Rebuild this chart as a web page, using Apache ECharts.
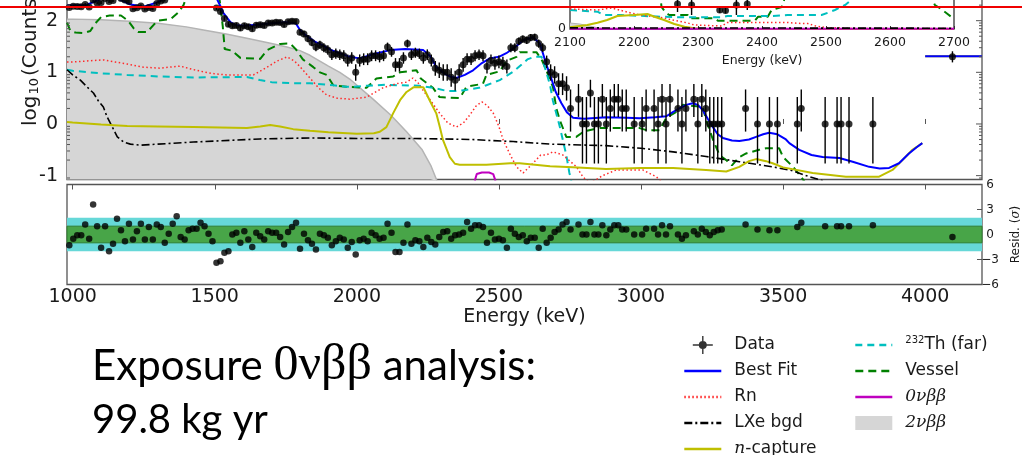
<!DOCTYPE html>
<html>
<head>
<meta charset="utf-8">
<script src="https://cdn.jsdelivr.net/npm/echarts@6/dist/echarts.min.js"></script>
<style>
  html, body { margin: 0; padding: 0; background: #fff; }
  #chart { width: 1022px; height: 455px; }
</style>
</head>
<body>
<div id="chart"></div>
<script>
// ---- spectrum binning (bin centres, keV) ----
const binStart = 988;
const binWidth = 14;

// counts per bin (null = empty bin, not drawn)
const dataCounts = [
  180,190,188,186,205,185,250,220,225,270,
  235,245,290,270,250,235,170,178,192,168,
  180,172,215,240,250,300,360,420,430,480,
  560,620,690,740,720,580,400,175,150,110,
  85,80,81,72,80,76,70,82,83,81,
  90,90,93,92,84,95,98,96,60,55,
  45,38,31,34,30,27,22,23,22,21,
  17,19,10,17,18,18,21,21,20,21,
  31,25,14,14,19,36,22,24,23,19,
  22,17,12,11,10,10,8,7,10,14,
  18,18,21,22,21,13,17,15,16,15,
  13,30,30,40,44,42,47,48,36,30,
  16,10,9,6,6,5,2,null,3,1,
  1,4,1,1,3,1,2,3,3,2,
  2,null,1,null,1,2,null,2,1,3,
  1,3,null,2,1,2,null,3,1,3,
  2,1,1,1,1,null,null,null,null,null,
  2,null,null,1,null,null,1,null,1,null,
  null,null,null,1,2,null,null,null,null,null,
  1,null,null,1,1,null,1,null,null,null,
  null,null,1,null,null,null,null,null,null,null,
  null,null,null,null,null,null,null,null,null,null,
  null,null,20
];

// fit residuals per bin, in sigma
const residuals = [
  -1.3,-0.5,-0.1,-0.1,1.2,-0.5,3.6,1.0,-1.6,1.0,
  -2.0,-1.1,1.9,0.5,-0.8,1.3,-0.6,0.4,1.3,-0.6,
  0.9,-0.6,1.2,0.9,-1.0,0.1,1.3,2.2,-0.3,-0.6,
  0.5,0.7,0.7,1.4,1.0,0.1,-0.8,-3.4,-3.2,-2.2,
  -2.0,0.0,0.2,-1.0,0.4,-0.6,-1.5,0.2,-0.2,-0.6,
  0.4,0.2,0.2,-0.3,-1.2,0.3,0.9,1.4,-1.7,0.1,
  -0.7,-1.1,-1.8,0.1,-0.1,-0.4,-1.3,-0.8,-0.4,-0.6,
  -1.6,-0.9,-2.4,-0.7,-0.5,-0.8,0.2,-0.1,-0.5,-0.4,
  1.3,0.2,-2.1,-2.1,-1.0,1.2,-1.1,-0.7,-0.8,-1.5,
  -0.4,-0.9,-1.2,-0.3,0.3,0.4,-0.5,-0.1,0.0,0.2,
  1.5,0.7,1.1,1.1,0.9,-1.0,0.2,-0.6,-0.5,-0.7,
  -1.6,0.7,0.1,-0.3,-0.1,-0.8,-0.4,-0.4,-1.6,0.7,
  -1.0,-0.4,0.3,0.6,1.2,1.5,0.6,null,1.2,0.0,
  0.0,1.5,0.0,0.0,1.1,-0.1,0.6,1.1,1.1,0.6,
  0.6,null,0.0,null,0.0,0.7,null,0.7,0.0,1.1,
  0.0,1.0,null,0.0,-0.5,-0.1,null,0.4,0.0,0.7,
  0.3,-0.1,0.3,0.5,0.6,null,null,null,null,null,
  1.2,null,null,0.6,null,null,0.5,null,0.5,null,
  null,null,null,0.9,1.4,null,null,null,null,null,
  1.0,null,null,1.0,1.0,null,1.0,null,null,null,
  null,null,1.1,null,null,null,null,null,null,null,
  null,null,null,null,null,null,null,null,null,null,
  null,null,-0.3
];

// ---- model components, [energy keV, log10(counts)] ----
const bestFit = [[980,2.3],[1000,2.3],[1050,2.31],[1100,2.42],[1150,2.45],[1200,2.32],[1250,2.27],[1300,2.36],[1350,2.52],[1400,2.7],[1450,2.85],[1480,2.75],[1505,2.45],[1520,2.28],[1530,2.15],[1555,1.97],[1575,1.91],[1600,1.9],[1650,1.92],[1700,1.95],[1750,1.97],[1785,1.95],[1800,1.82],[1820,1.72],[1850,1.6],[1880,1.52],[1910,1.43],[1940,1.37],[1975,1.3],[2010,1.27],[2057,1.35],[2117,1.43],[2170,1.45],[2234,1.43],[2260,1.3],[2280,1.1],[2310,0.97],[2327,0.92],[2350,0.89],[2380,0.95],[2409,1.04],[2440,1.18],[2468,1.27],[2500,1.3],[2526,1.37],[2560,1.5],[2585,1.62],[2620,1.68],[2644,1.56],[2667,1.15],[2680,0.95],[2700,0.62],[2720,0.4],[2740,0.22],[2761,0.12],[2800,0.1],[2877,0.13],[2950,0.12],[2995,0.11],[3050,0.13],[3089,0.15],[3112,0.23],[3135,0.3],[3159,0.37],[3182,0.4],[3200,0.37],[3217,0.27],[3235,0.1],[3253,-0.06],[3270,-0.2],[3288,-0.27],[3320,-0.32],[3346,-0.33],[3380,-0.3],[3405,-0.25],[3430,-0.2],[3451,-0.17],[3480,-0.2],[3510,-0.3],[3522,-0.37],[3557,-0.5],[3600,-0.6],[3639,-0.64],[3698,-0.66],[3745,-0.73],[3803,-0.83],[3840,-0.86],[3873,-0.85],[3908,-0.76],[3943,-0.57],[3970,-0.45],[3990,-0.37],[3995,null],[4000,1.31],[4200,1.31]];

const radon = [[980,1.2],[1000,1.2],[1050,1.22],[1108,1.24],[1150,1.2],[1192,1.16],[1250,1.1],[1308,1.08],[1340,1.1],[1378,1.12],[1420,1.06],[1460,1.01],[1500,0.97],[1543,0.95],[1636,0.95],[1684,1.1],[1720,1.22],[1755,1.3],[1780,1.22],[1800,1.11],[1835,0.89],[1865,0.7],[1894,0.56],[1930,0.5],[1975,0.48],[2034,0.52],[2092,0.7],[2140,0.78],[2175,0.81],[2197,0.89],[2215,0.8],[2232,0.66],[2260,0.45],[2291,0.21],[2320,0.02],[2350,-0.06],[2375,0.02],[2397,0.17],[2420,0.35],[2440,0.43],[2460,0.35],[2480,0.21],[2500,-0.05],[2515,-0.31],[2540,-0.6],[2562,-0.83],[2585,-0.95],[2620,-0.76],[2647,-0.6],[2667,-0.6],[2690,-0.54],[2725,-0.6],[2773,-0.83],[2795,-1.02],[2820,-1.15],[2850,-1.05],[2865,-1.0],[2913,-0.89],[3006,-0.89],[3053,-1.02],[3080,-1.15]];

const lxeBgd = [[980,1.05],[1000,0.95],[1027,0.85],[1050,0.72],[1073,0.6],[1090,0.45],[1108,0.33],[1120,0.15],[1132,0.02],[1145,-0.12],[1157,-0.25],[1180,-0.35],[1203,-0.39],[1238,-0.41],[1300,-0.39],[1425,-0.35],[1659,-0.29],[1835,-0.27],[2000,-0.28],[2200,-0.28],[2400,-0.3],[2550,-0.34],[2680,-0.39],[2877,-0.42],[3000,-0.47],[3113,-0.54],[3229,-0.63],[3346,-0.73],[3463,-0.83],[3530,-0.9],[3592,-1.02],[3640,-1.1]];

const nCapture = [[980,0.04],[1000,0.03],[1100,-0.01],[1192,-0.04],[1300,-0.05],[1425,-0.06],[1613,-0.08],[1660,-0.05],[1695,-0.02],[1730,-0.05],[1776,-0.1],[1835,-0.13],[1900,-0.16],[2000,-0.19],[2060,-0.18],[2081,-0.15],[2104,-0.06],[2128,0.21],[2152,0.46],[2175,0.62],[2199,0.71],[2234,0.71],[2256,0.46],[2280,0.2],[2292,-0.06],[2303,-0.31],[2327,-0.64],[2345,-0.77],[2362,-0.79],[2456,-0.79],[2540,-0.76],[2573,-0.76],[2680,-0.82],[2760,-0.84],[2877,-0.87],[3000,-0.85],[3113,-0.85],[3229,-0.89],[3300,-0.92],[3346,-0.83],[3380,-0.72],[3405,-0.68],[3440,-0.72],[3463,-0.76],[3500,-0.84],[3604,-0.95],[3721,-1.02],[3838,-1.02],[3885,-0.89],[3920,-0.7],[3955,-0.5],[3990,-0.37],[3995,null],[4000,1.31],[4200,1.31]];

const thFar = [[980,1.05],[1000,1.03],[1100,0.98],[1192,0.95],[1300,0.92],[1425,0.9],[1613,0.91],[1659,0.85],[1700,0.81],[1776,0.79],[1835,0.79],[1917,0.75],[1960,0.72],[1990,0.72],[2034,0.74],[2100,0.76],[2150,0.75],[2220,0.74],[2268,0.7],[2317,0.64],[2350,0.64],[2386,0.66],[2430,0.7],[2456,0.75],[2503,0.85],[2550,1.01],[2580,1.15],[2600,1.25],[2625,1.3],[2650,1.3],[2667,1.0],[2680,0.75],[2690,0.45],[2714,-0.05],[2737,-0.6],[2748,-0.95],[2755,-1.1]];

const vessel = [[980,1.96],[992,1.8],[1010,1.77],[1040,1.76],[1062,1.8],[1080,1.95],[1100,2.07],[1130,2.1],[1170,2.1],[1195,2.0],[1215,1.85],[1230,1.78],[1262,1.78],[1285,1.92],[1300,2.0],[1345,2.03],[1370,2.15],[1390,2.3],[1410,2.6],[1440,2.9],[1465,3.0],[1490,2.8],[1515,2.5],[1528,1.9],[1535,1.45],[1560,1.42],[1590,1.28],[1660,1.26],[1684,1.43],[1730,1.55],[1765,1.56],[1785,1.45],[1810,1.25],[1847,1.1],[1870,1.0],[1894,0.95],[1917,0.75],[1964,0.72],[2034,0.7],[2069,0.88],[2128,0.92],[2152,1.0],[2210,1.04],[2225,0.88],[2268,0.7],[2291,0.52],[2362,0.5],[2386,0.72],[2444,0.78],[2456,0.95],[2503,1.02],[2526,1.22],[2562,1.3],[2573,1.39],[2632,1.39],[2650,1.25],[2667,1.04],[2680,0.85],[2690,0.72],[2702,0.3],[2714,0.08],[2737,-0.25],[2772,-0.25],[2800,-0.14],[2854,-0.08],[2995,-0.08],[3019,-0.12],[3065,-0.12],[3089,0.12],[3135,0.27],[3147,0.37],[3217,0.33],[3229,0.08],[3253,-0.3],[3276,-0.6],[3300,-0.7],[3320,-0.8],[3346,-0.64],[3370,-0.57],[3416,-0.5],[3440,-0.47],[3486,-0.47],[3500,-0.64],[3535,-0.83],[3560,-1.0],[3580,-1.15]];

const zeroNu = [[2415,-1.1],[2422,-0.97],[2440,-0.94],[2465,-0.94],[2480,-0.97],[2488,-1.1]];

const twoNu = [[980,2.03],[1000,2.03],[1100,2.02],[1200,1.99],[1300,1.95],[1400,1.88],[1460,1.82],[1540,1.74],[1613,1.66],[1700,1.56],[1754,1.49],[1800,1.42],[1835,1.33],[1900,1.12],[1940,1.0],[1975,0.87],[2057,0.48],[2120,0.17],[2175,-0.15],[2230,-0.5],[2260,-0.8],[2282,-1.1]];

// ---- zoomed ROI panel (linear scale) ----
const roiTwoNu = [[2100,3],[2115,2.5],[2130,1.5],[2145,0.5],[2160,0]];
const roiNCapture = [[2100,0.85],[2127,2],[2143,3.15],[2158,4.5],[2174,6.5],[2200,7],[2221,7.5],[2232,6.15],[2247,4.5],[2263,2.5],[2279,1.15],[2294,0.35],[2310,0],[2700,0]];
const roiThFar = [[2100,9.5],[2143,8.65],[2153,7],[2180,7],[2243,6.15],[2274,5.85],[2337,5.85],[2346,6.5],[2415,6.5],[2440,7],[2493,7],[2503,8.15],[2514,9.5],[2530,12],[2545,16],[2700,16]];
const roiRadon = [[2100,10],[2143,9.5],[2165,10.5],[2195,8],[2210,7],[2247,5.5],[2260,4.5],[2284,3],[2294,2],[2337,1.5],[2346,3.25],[2440,3.25],[2456,2.85],[2472,2.7],[2483,1.6],[2500,0.65],[2519,0.65],[2540,0.3],[2700,0.3]];
const roiVessel = [[2100,20],[2240,20],[2243,11],[2250,8],[2255,7],[2284,7],[2287,5.35],[2326,5.35],[2331,4.15],[2389,4.15],[2394,6.15],[2409,6.15],[2415,9.5],[2431,11],[2440,20],[2660,20],[2670,12],[2680,10],[2690,7.5],[2700,5]];
const roiLxe = [[2100,0.55],[2700,0.4]];
const roiZeroNu = [[2100,0.15],[2700,0.15]];
// [energy, value, lower, upper]
const roiData = [[2268,12.5,8.5,16.5],[2290,12,7,17],[2334,9.5,8,11],[2343,9.3,7.8,10.8],[2360,12,7,17],[2377,12.5,9.5,15.5]];

// ---- axis ticks ----
const xTicks = [1000,1500,2000,2500,3000,3500,4000];
const logTicks = [-1,0,1,2];
const residTicks = [-6,-3,0,3,6];
const roiTicks = [2100,2200,2300,2400,2500,2600,2700];

// ---- derived marks ----
const binCentre = k => binStart + binWidth * k;
const dataPoints = [], dataBars = [], residPoints = [];
dataCounts.forEach((n, k) => {
  if (n == null) return;
  const e = binCentre(k);
  // Gehrels approximation for Poisson confidence limits
  const hi = n + 1 + Math.sqrt(n + 0.75);
  const lo = n * Math.pow(1 - 1 / (9 * n) - 1 / (3 * Math.sqrt(n)), 3);
  dataPoints.push([e, Math.log10(n)]);
  dataBars.push([e, Math.log10(lo), Math.log10(hi)]);
});
residuals.forEach((r, k) => { if (r != null) residPoints.push([binCentre(k), r]); });

const yLo = -1.075, yHi = 2.439;
const logTickMarks = [];
for (let d = -2; d <= 2; d++) {
  for (let m = 2; m <= 9; m++) {
    const v = d + Math.log10(m);
    if (v > yLo && v < yHi) { logTickMarks.push([980, v, 1, 3]); logTickMarks.push([4200, v, -1, 3]); }
  }
}
logTicks.forEach(v => logTickMarks.push([4200, v, -1, 6]));

const FRAME = '#555';
const TXT = '#1a1a1a';
const plain = v => String(v);

function barItem(params, api) {
  const x = api.value(0);
  const a = api.coord([x, api.value(1)]);
  const b = api.coord([x, api.value(2)]);
  return { type: 'line', shape: { x1: a[0], y1: a[1], x2: b[0], y2: b[1] },
           style: { stroke: '#000', lineWidth: 1.4 } };
}
function tickItem(params, api) {
  const p = api.coord([api.value(0), api.value(1)]);
  const d = api.value(2) * api.value(3);
  return { type: 'line', shape: { x1: p[0], y1: p[1], x2: p[0] + d, y2: p[1] },
           style: { stroke: FRAME, lineWidth: 1 } };
}

function lineSeries(name, data, color, width, type, z, axis) {
  return {
    name: name, type: 'line', data: data, symbol: 'none', z: z,
    xAxisIndex: axis, yAxisIndex: axis,
    lineStyle: { color: color, width: width, type: type },
    itemStyle: { color: color }, silent: true, animation: false
  };
}

const legendNames = {
  'n-capture': '{m|n}-capture',
  '232Th (far)': '{sup|232}Th (far)',
  '0νββ': '{m|0νββ}',
  '2νββ': '{m|2νββ}'
};
const legendTextStyle = {
  fontFamily: 'DejaVu Sans', fontSize: 17, color: TXT, lineHeight: 20, padding: [0, 0, 0, 8],
  rich: {
    sup: { fontFamily: 'DejaVu Sans', fontSize: 10, color: TXT, verticalAlign: 'top', lineHeight: 12 },
    m: { fontFamily: 'DejaVu Serif', fontStyle: 'italic', fontSize: 17, color: TXT }
  }
};
const dataIcon = 'path://M0,8.3h20v1.4h-20z M9.3,0h1.4v18h-1.4z M14,9a4,4 0 1,1 -8,0a4,4 0 1,1 8,0z';
const lineOnly = name => ({ name: name, itemStyle: { opacity: 0 } });
function legendBlock(left, top, items, itemHeight) {
  return { orient: 'vertical', left: left, top: top, padding: 0, itemWidth: 37, itemHeight: itemHeight,
           itemGap: 6, selectedMode: false, textStyle: legendTextStyle, lineStyle: { width: 2.6 },
           formatter: n => legendNames[n] || n, data: items };
}

const chart = echarts.init(document.getElementById('chart'), null, { renderer: 'canvas' });
chart.setOption({
  animation: false,
  backgroundColor: '#fff',
  textStyle: { fontFamily: 'DejaVu Sans' },
  grid: [
    { left: 67, right: 40, top: -2, height: 181.5, show: true, borderColor: FRAME, borderWidth: 1.3,
      outerBoundsMode: 'none', containLabel: false },
    { left: 67, right: 40, top: 184.5, height: 100, show: true, borderColor: FRAME, borderWidth: 1.3,
      outerBoundsMode: 'none', containLabel: false },
    { left: 570, width: 384, top: -2, height: 31, show: true, borderColor: '#333', borderWidth: 1.3,
      backgroundColor: '#fff', outerBoundsMode: 'none', containLabel: false }
  ],
  xAxis: [
    { gridIndex: 0, type: 'value', min: 980, max: 4200, axisLine: { show: false },
      axisTick: { inside: true, length: 5, customValues: xTicks, lineStyle: { color: FRAME } },
      axisLabel: { show: false }, splitLine: { show: false } },
    { gridIndex: 1, type: 'value', min: 980, max: 4200, axisLine: { show: false },
      axisTick: { inside: true, length: 5, customValues: xTicks, lineStyle: { color: FRAME } },
      axisLabel: { customValues: xTicks, formatter: plain, margin: 3, fontSize: 19, color: TXT, fontFamily: 'DejaVu Sans' },
      splitLine: { show: false },
      name: 'Energy (keV)', nameLocation: 'middle', nameGap: 23,
      nameTextStyle: { fontSize: 19, color: TXT, fontFamily: 'DejaVu Sans' } },
    { gridIndex: 1, type: 'value', min: 980, max: 4200, position: 'top', axisLine: { show: false },
      axisTick: { inside: true, length: 5, customValues: xTicks, lineStyle: { color: FRAME } },
      axisLabel: { show: false }, splitLine: { show: false } },
    { gridIndex: 2, type: 'value', min: 2100, max: 2700, axisLine: { show: false },
      axisTick: { inside: true, length: 3, customValues: roiTicks, lineStyle: { color: '#333' } },
      axisLabel: { customValues: roiTicks, formatter: plain, margin: 7, fontSize: 12.5, color: TXT, fontFamily: 'DejaVu Sans' },
      splitLine: { show: false },
      name: 'Energy (keV)', nameLocation: 'middle', nameGap: 25,
      nameTextStyle: { fontSize: 12.5, color: TXT, fontFamily: 'DejaVu Sans' } }
  ],
  yAxis: [
    { gridIndex: 0, type: 'value', min: yLo, max: yHi, axisLine: { show: false },
      axisTick: { inside: true, length: 6, customValues: logTicks, lineStyle: { color: FRAME } },
      axisLabel: { customValues: logTicks, formatter: plain, margin: 9, fontSize: 19, color: TXT, fontFamily: 'DejaVu Sans' },
      splitLine: { show: false } },
    { gridIndex: 1, type: 'value', min: -6, max: 6, position: 'right', axisLine: { show: false },
      axisTick: { inside: true, length: 5, customValues: residTicks, lineStyle: { color: FRAME } },
      axisLabel: { customValues: residTicks, margin: 8, align: 'center', fontSize: 12, color: TXT,
                   fontFamily: 'DejaVu Sans', formatter: v => (v < 0 ? '\u2212' + (-v) : String(v)) },
      splitLine: { show: false },
      name: 'Resid. ({s|σ})', nameLocation: 'middle', nameGap: 28, nameRotate: 90,
      nameTextStyle: { fontSize: 12, color: TXT, fontFamily: 'DejaVu Sans',
                       rich: { s: { fontFamily: 'DejaVu Serif', fontStyle: 'italic', fontSize: 12, color: TXT } } } },
    { gridIndex: 2, type: 'value', min: 0, max: 15.5, axisLine: { show: false },
      axisTick: { show: false },
      axisLabel: { customValues: [0], formatter: plain, margin: 4, fontSize: 12.5, color: TXT, fontFamily: 'DejaVu Sans' },
      splitLine: { show: false } }
  ],
  legend: [
    legendBlock(683, 335, [{ name: 'Data', icon: dataIcon, itemStyle: { color: '#000' } },
                           lineOnly('Best Fit'), lineOnly('Rn'), lineOnly('LXe bgd')], 18),
    legendBlock(683, 439, [lineOnly('n-capture')], 18),
    legendBlock(854, 335, [lineOnly('232Th (far)'), lineOnly('Vessel'), lineOnly('0νββ'),
                           { name: '2νββ', icon: 'rect', itemStyle: { color: '#d6d6d6', opacity: 1 } }], 14)
  ],
  graphic: [
    { type: 'text', x: 31, y: 126, rotation: Math.PI / 2, z: 50,
      style: { text: 'log{s|10}(Counts)', fill: TXT, font: '20px "DejaVu Sans"', align: 'left', verticalAlign: 'middle',
               rich: { s: { fontSize: 13, fontFamily: 'DejaVu Sans', fill: TXT, verticalAlign: 'bottom', padding: [0, 2, 0, 1] } } } },
    { type: 'text', x: 92, y: 366, z: 50,
      style: { text: 'Exposure {g|0νββ} analysis:', fill: '#000', font: '42px Lato', verticalAlign: 'middle',
               rich: { g: { fontFamily: 'Liberation Serif', fontSize: 50, fill: '#000' } } } },
    { type: 'text', x: 92, y: 420, z: 50,
      style: { text: '99.8 kg yr', fill: '#000', font: '40px Lato', verticalAlign: 'middle' } },
    { type: 'line', z: 100, shape: { x1: 0, y1: 7, x2: 1022, y2: 7 }, style: { stroke: '#f00000', lineWidth: 2 } }
  ],
  series: [
    Object.assign(lineSeries('2νββ', twoNu, '#b4b4b4', 1.5, 'solid', 1, 0),
      { areaStyle: { color: '#d6d6d6', opacity: 1, origin: 'start' } }),
    lineSeries('Vessel', vessel, '#008000', 2, [8, 5], 2, 0),
    lineSeries('232Th (far)', thFar, '#00bfbf', 2, [7, 5], 2, 0),
    lineSeries('Rn', radon, '#ff2a2a', 1.5, [1.5, 2.5], 2, 0),
    lineSeries('LXe bgd', lxeBgd, '#000', 1.6, [8, 3, 2, 3], 2, 0),
    lineSeries('n-capture', nCapture, '#bfbf00', 2, 'solid', 3, 0),
    lineSeries('0νββ', zeroNu, '#bf00bf', 2, 'solid', 3, 0),
    lineSeries('Best Fit', bestFit, '#0000ff', 2, 'solid', 3, 0),
    { type: 'custom', renderItem: barItem, data: dataBars, xAxisIndex: 0, yAxisIndex: 0, z: 4, silent: true,
      encode: { x: 0, y: [1, 2] } },
    { name: 'Data', type: 'scatter', data: dataPoints, xAxisIndex: 0, yAxisIndex: 0, symbol: 'circle',
      symbolSize: 7, itemStyle: { color: '#000' }, z: 5, silent: true },
    { type: 'custom', renderItem: tickItem, data: logTickMarks, xAxisIndex: 0, yAxisIndex: 0, z: 6, silent: true,
      encode: { x: 0, y: 1 } },

    // residual panel
    { type: 'line', data: [[980, 0], [4200, 0]], xAxisIndex: 1, yAxisIndex: 1, symbol: 'none', z: 1, silent: true,
      lineStyle: { opacity: 0 },
      markArea: { silent: true, data: [
        [{ yAxis: -2, itemStyle: { color: '#66d8d8' } }, { yAxis: 2 }],
        [{ yAxis: -1, itemStyle: { color: '#48a548', borderColor: '#2f7f2f', borderWidth: 1 } }, { yAxis: 1 }]
      ] } },
    { type: 'scatter', data: residPoints, xAxisIndex: 1, yAxisIndex: 1, symbol: 'circle', symbolSize: 6.5,
      itemStyle: { color: '#000' }, z: 5, silent: true },

    // ROI panel
    Object.assign(lineSeries('', roiTwoNu, '#b4b4b4', 1.2, 'solid', 1, 2),
      { xAxisIndex: 3, yAxisIndex: 2, areaStyle: { color: '#d6d6d6', opacity: 1, origin: 'start' } }),
    Object.assign(lineSeries('', roiVessel, '#008000', 2, [8, 5], 2, 2), { xAxisIndex: 3, yAxisIndex: 2 }),
    Object.assign(lineSeries('', roiThFar, '#00bfbf', 2, [7, 5], 2, 2), { xAxisIndex: 3, yAxisIndex: 2 }),
    Object.assign(lineSeries('', roiRadon, '#ff2a2a', 1.5, [1.5, 2.5], 2, 2), { xAxisIndex: 3, yAxisIndex: 2 }),
    Object.assign(lineSeries('', roiNCapture, '#bfbf00', 2, 'solid', 3, 2), { xAxisIndex: 3, yAxisIndex: 2 }),
    Object.assign(lineSeries('', roiZeroNu, '#bf00bf', 2, 'solid', 3, 2), { xAxisIndex: 3, yAxisIndex: 2 }),
    Object.assign(lineSeries('', roiLxe, '#000', 1.6, [8, 3, 2, 3], 3, 2), { xAxisIndex: 3, yAxisIndex: 2 }),
    { type: 'custom', renderItem: barItem, data: roiData.map(d => [d[0], d[2], d[3]]), xAxisIndex: 3, yAxisIndex: 2,
      z: 4, silent: true, encode: { x: 0, y: [1, 2] } },
    { type: 'scatter', data: roiData.map(d => [d[0], d[1]]), xAxisIndex: 3, yAxisIndex: 2, symbol: 'circle',
      symbolSize: 7, itemStyle: { color: '#000' }, z: 5, silent: true }
  ]
});
</script>
</body>
</html>
